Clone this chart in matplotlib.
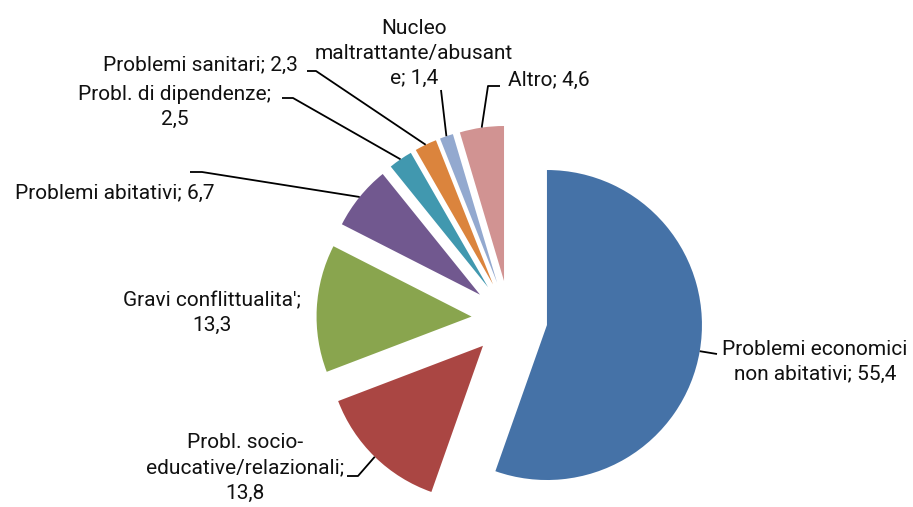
import matplotlib
matplotlib.use("Agg")
import matplotlib.pyplot as plt
import numpy as np

categories = ["Problemi economici\nnon abitativi", "Probl. socio-\neducative/relazionali",
              "Gravi conflittualita'", "Problemi abitativi", "Probl. di dipendenze",
              "Problemi sanitari", "Nucleo\nmaltrattante/abusant\ne", "Altro"]
values = [55.4, 13.8, 13.3, 6.7, 2.5, 2.3, 1.4, 4.6]
value_sep = [" ", "\n", "\n", " ", "\n", " ", " ", " "]
colors = ["#4572A7", "#AA4643", "#89A54E", "#71588F", "#4198AF", "#DB843D", "#93A9CF", "#D19392"]

W, H = 913, 507
fig = plt.figure(figsize=(W / 100, H / 100), dpi=100)
ax = fig.add_axes([0, 0, 1, 1])
R = 155
cx, cy = 509.5, H - 318.6
wedges, _ = ax.pie(values, colors=colors, startangle=90, counterclock=False, radius=R,
                   center=(cx, cy), explode=[38] * len(values),
                   wedgeprops=dict(linewidth=0))
ax.set_xlim(0, W)
ax.set_ylim(0, H)
ax.set_aspect('auto')
ax.axis('off')

# label centres (pixels from top-left)
label_pos = [(815, 362), (245, 468), (212, 313), (115, 193), (175, 107),
             (200, 65), (414, 53), (549, 80)]
# leader line points before the wedge anchor (pixels from top-left)
leader_pts = [[(717, 354)], [(347, 476), (358, 476)], [], [(190, 172), (202, 172)],
              [(282, 98), (293, 98)], [(307, 71), (316, 71)], [(441, 90)],
              [(500, 86), (488, 86)]]

font = ['Roboto', 'DejaVu Sans']
for w, cat, v, sep, (lx, ly), pts in zip(wedges, categories, values, value_sep, label_pos, leader_pts):
    txt = f"{cat};{sep}" + f"{v:.1f}".replace('.', ',')
    ax.text(lx, H - ly, txt, ha='center', va='center', fontsize=15, family=font,
            fontweight='normal', linespacing=1.4, multialignment='center', color='#111111')
    if pts:
        th = np.radians((w.theta1 + w.theta2) / 2)
        ax_, ay_ = w.center[0] + R * np.cos(th), w.center[1] + R * np.sin(th)
        xs = [p[0] for p in pts] + [ax_]
        ys = [H - p[1] for p in pts] + [ay_]
        ax.plot(xs, ys, color='black', lw=1.3, solid_capstyle='butt')

fig.savefig("out.png", dpi=100)
